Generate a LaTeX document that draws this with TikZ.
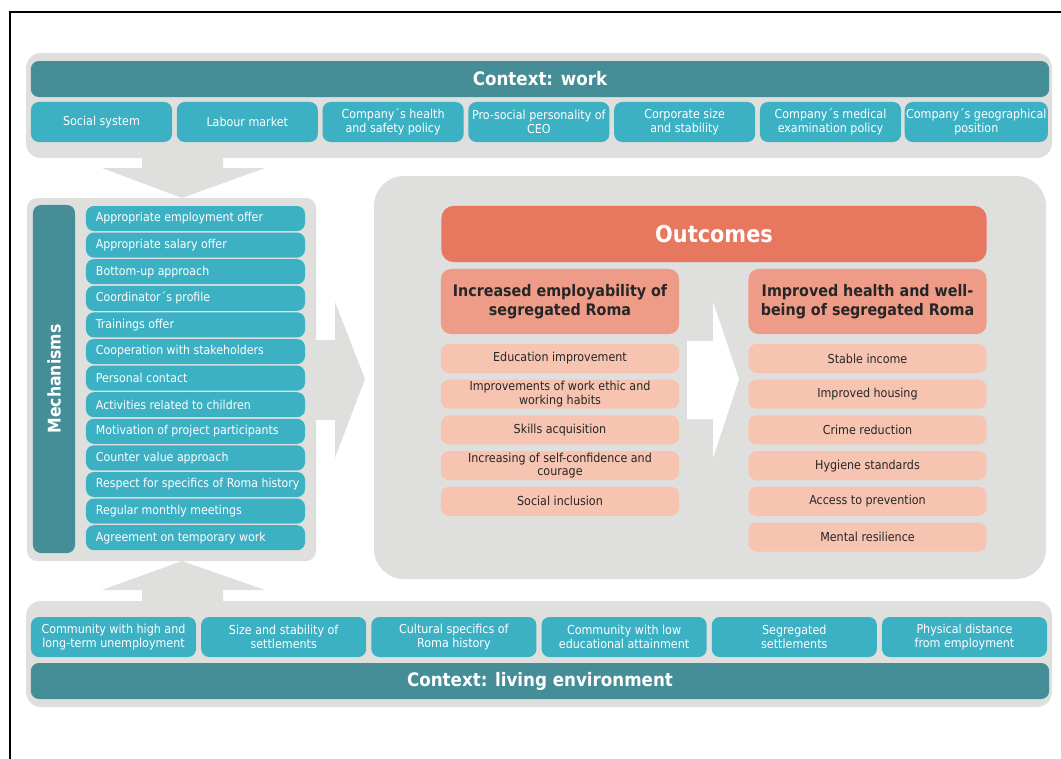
\documentclass[tikz,border=0pt]{standalone}
\usepackage{fontspec}
\setmainfont{DejaVu Sans Condensed}
\usetikzlibrary{positioning}
\definecolor{ctxdark}{HTML}{458E98}
\definecolor{ctxlight}{HTML}{3CB1C3}
\definecolor{panelgrey}{HTML}{DFDFDE}
\definecolor{outdark}{HTML}{E8775F}
\definecolor{outmid}{HTML}{EE9C87}
\definecolor{outlight}{HTML}{F6C4B1}
\definecolor{inkdark}{HTML}{262626}
\tikzset{
    panel/.style={fill=panelgrey, rounded corners=0.375cm},
    ctxbar/.style={fill=ctxdark, rounded corners=0.2cm, text=white, minimum width=25.45cm, minimum height=0.9cm, font=\bfseries\fontsize{13.2}{15}\selectfont},
    ctxbox/.style={fill=ctxlight, rounded corners=0.2cm, text=white, align=center, minimum height=1cm, inner sep=1pt, font=\fontsize{8.8}{10.2}\selectfont},
    mechbar/.style={fill=ctxdark, rounded corners=0.2cm, text=white, rotate=90, minimum width=8.7cm, minimum height=1.05cm, font=\bfseries\fontsize{12.4}{14}\selectfont},
    mechbox/.style={fill=ctxlight, rounded corners=0.2cm, text=white, minimum height=0.625cm, inner xsep=0.25cm, inner ysep=0pt, font=\fontsize{8.7}{10}\selectfont},
    outbar/.style={fill=outdark, rounded corners=0.3cm, text=white, minimum width=13.625cm, minimum height=1.4cm, font=\bfseries\fontsize{16.5}{18}\selectfont},
    outhead/.style={fill=outmid, rounded corners=0.25cm, text=inkdark, align=center, minimum width=5.95cm, minimum height=1.625cm, inner sep=1pt, font=\bfseries\fontsize{11.3}{13.7}\selectfont},
    outitem/.style={fill=outlight, rounded corners=0.2cm, text=inkdark, align=center, minimum width=5.95cm, minimum height=0.725cm, inner sep=1pt, font=\fontsize{8.8}{9.8}\selectfont}
}
\newcommand{\mechtext}[1]{\makebox[4.975cm][l]{#1}}

\begin{document}
\begin{tikzpicture}[x=0.025cm, y=-0.025cm]
    \useasboundingbox (0,0) rectangle (1061,758);
    \draw[line width=1.1pt] (10,770) -- (10,12) -- (1070,12);

    % grey panels and block arrows
    \fill[panel] (26,53) rectangle (1052,158);
    \fill[panel] (26,601) rectangle (1052,707);
    \fill[panel, rounded corners=0.25cm] (27,198) rectangle (316,561);
    \fill[panel, rounded corners=0.75cm] (374,176) rectangle (1046,579);
    \fill[panelgrey] (142,150) -- (223,150) -- (223,168) -- (265,168) -- (182,198) -- (102,168) -- (142,168) -- cycle;
    \fill[panelgrey] (142,606) -- (223,606) -- (223,590) -- (265,590) -- (182,561) -- (102,590) -- (142,590) -- cycle;
    \fill[panelgrey] (310,340) -- (335,340) -- (335,302) -- (365,379) -- (335,458) -- (335,420) -- (310,420) -- cycle;
    \fill[white] (687,341) -- (713,341) -- (713,302) -- (739,379) -- (713,458) -- (713,419) -- (687,419) -- cycle;

    % context: work
    \node[ctxbar] (work) at (540,79) {Context: work};
    \foreach \t [count=\i from 0] in {Social system, Labour market, Company´s health\\and safety policy, Pro-social personality of\\CEO, Corporate size\\and stability, Company´s medical\\examination policy, Company´s geographical\\position}
        \node[ctxbox, minimum width=3.525cm] (w\i) at (101.5+145.8*\i,122) {\t};

    % mechanisms
    \node[mechbar] (mech) at (54,379) {Mechanisms};
    \foreach \t [count=\i from 0] in {Appropriate employment offer, Appropriate salary offer, Bottom-up approach, Coordinator´s profile, Trainings offer, Cooperation with stakeholders, Personal contact, Activities related to children, Motivation of project participants, Counter value approach, Respect for specifics of Roma history, Regular monthly meetings, Agreement on temporary work}
        \node[mechbox] (m\i) at (195.5,218.5+26.6*\i) {\mechtext{\t}};

    % outcomes
    \node[outbar] (outcomes) at (714,234) {Outcomes};
    \node[outhead] (employ) at (560,301.5) {Increased employability of\\segregated Roma};
    \node[outhead] (health) at (867.5,301.5) {Improved health and well-\\being of segregated Roma};
    \foreach \t [count=\i from 0] in {Education improvement, Improvements of work ethic and\\working habits, Skills acquisition, Increasing of self-confidence and\\courage, Social inclusion}
        \node[outitem] (e\i) at (560,358.5+35.7*\i) {\t};
    \foreach \t [count=\i from 0] in {Stable income, Improved housing, Crime reduction, Hygiene standards, Access to prevention, Mental resilience}
        \node[outitem] (h\i) at (867.5,358.5+35.7*\i) {\t};

    % context: living environment
    \foreach \t [count=\i from 0] in {Community with high and\\long-term unemployment, Size and stability of\\settlements, Cultural specifics of\\Roma history, Community with low\\educational attainment, Segregated\\settlements, Physical distance\\from employment}
        \node[ctxbox, minimum width=4.125cm] (l\i) at (113.5+170.2*\i,637) {\t};
    \node[ctxbar] (living) at (540,681) {Context: living environment};
\end{tikzpicture}
\end{document}
